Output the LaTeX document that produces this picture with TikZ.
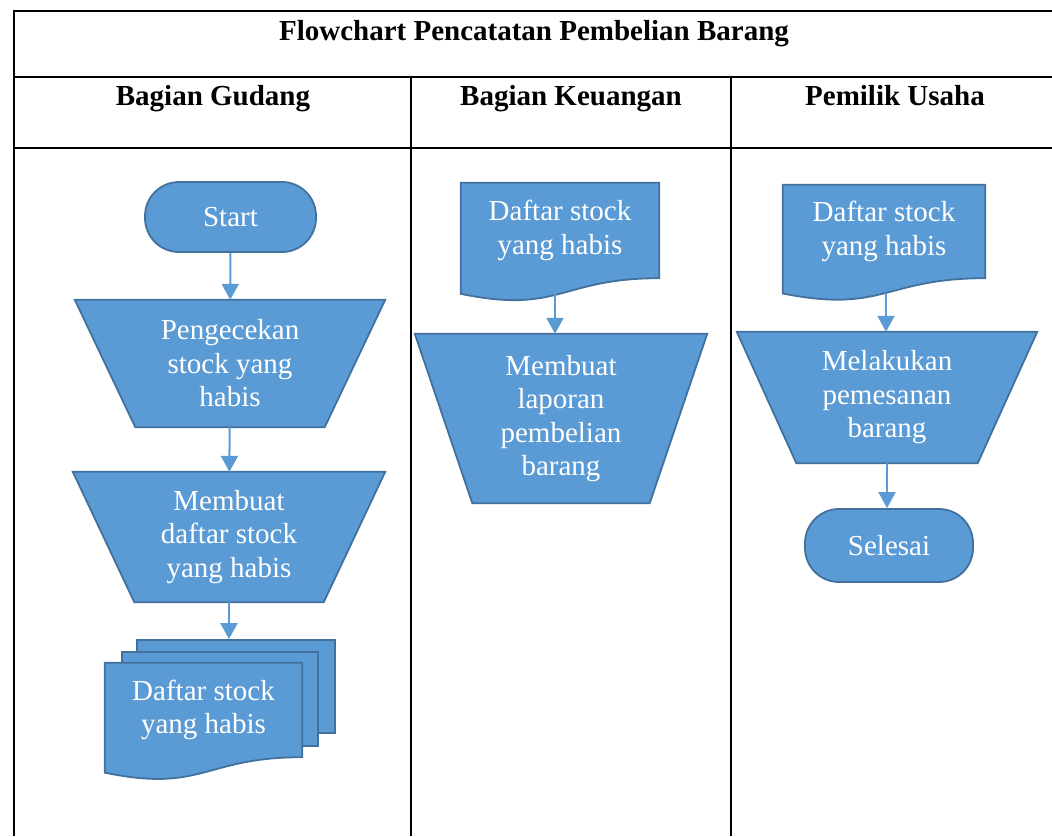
\documentclass[tikz,border=0pt]{standalone}
\usepackage{fontspec}
\setmainfont{Liberation Serif}
\usepackage{tikz}
\usetikzlibrary{
  arrows.meta,
  positioning,
  calc,
  backgrounds,
}
\definecolor{boxfill}{HTML}{5B9BD5}
\definecolor{boxline}{HTML}{41719C}
\definecolor{flowink}{HTML}{5B9BD5}
\tikzset{
  >={Triangle[width=17pt,length=16pt]},
  heading/.style={font=\fontsize{29}{33}\selectfont\bfseries, text=black, anchor=base},
  boxtext/.style={font=\fontsize{29}{33.5}\selectfont, text=white, align=center, inner sep=0pt},
  terminal/.style={boxtext, draw=boxline, fill=boxfill, line width=1.8pt, rounded corners=34pt},
  sheet/.style={draw=boxline, fill=boxfill, line width=1.8pt},
  flow/.style={draw=flowink, line width=2pt, ->},
  grid/.style={line width=2.5pt, black},
}

\begin{document}
\begin{tikzpicture}[x=1pt,y=-1pt]
  \useasboundingbox (0,0) rectangle (1052,836);

  % table
  \draw[grid] (1052,11) -- (14,11) -- (14,836);
  \draw[grid] (14,77) -- (1052,77);
  \draw[grid] (14,148) -- (1052,148);
  \draw[grid] (411,77) -- (411,836);
  \draw[grid] (731,77) -- (731,836);

  \node[heading] (title) at (534,40) {Flowchart Pencatatan Pembelian Barang};
  \node[heading] (hgudang) at (213,105) {Bagian Gudang};
  \node[heading] (hkeuangan) at (571,105) {Bagian Keuangan};
  \node[heading] (hpemilik) at (895,105) {Pemilik Usaha};

  % bagian gudang
  \node[terminal, minimum width=171pt, minimum height=70pt] (start) at (230.5,217) {\raisebox{-3pt}{Start}};
  \node[boxtext, minimum width=310pt, minimum height=127pt] (cek) at (230,363.5) {Pengecekan\\stock yang\\habis};
  \node[boxtext, minimum width=312pt, minimum height=130pt] (buat) at (229,537) {Membuat\\daftar stock\\yang habis};
  \node[boxtext, minimum width=197pt, minimum height=94pt] (dstock) at (203.5,710) {Daftar stock\\yang habis};

  % bagian keuangan
  \node[boxtext, minimum width=198pt, minimum height=95pt] (kdoc) at (560,230.5) {Daftar stock\\yang habis};
  \node[boxtext, minimum width=292pt, minimum height=169pt] (kproc) at (561,418.5) {Membuat\\laporan\\pembelian\\barang};

  % pemilik usaha
  \node[boxtext, minimum width=202pt, minimum height=93pt] (pdoc) at (884,231.5) {Daftar stock\\yang habis};
  \node[boxtext, minimum width=300pt, minimum height=131pt] (pproc) at (887,397.5) {Melakukan\\pemesanan\\barang};
  \node[terminal, minimum width=168pt, minimum height=73pt] (selesai) at (889,545.5) {Selesai};

  \begin{scope}[on background layer]
    \foreach \n/\d in {cek/60.5, buat/61.5, kproc/57.5, pproc/59.5} {
      \path[sheet] (\n.north west) -- (\n.north east)
        -- ($(\n.south east)+(-\d,0)$) -- ($(\n.south west)+(\d,0)$) -- cycle;
    }
    \node[sheet, minimum width=198pt, minimum height=93pt] (dback) at (236,686.5) {};
    \node[sheet, minimum width=196pt, minimum height=94pt] (dmid) at (220,699) {};
    \foreach \n/\b in {kdoc/95, pdoc/93, dstock/94} {
      \path[sheet] (\n.north west) -- (\n.north east) -- (\n.south east)
        .. controls (\n.south) and ($(\n.south)+(0,{0.381*\b})$)
        .. ($(\n.south west)+(0,{0.1646*\b})$) -- cycle;
    }
  \end{scope}

  \coordinate (kwave) at ($(kdoc.south)+(-5,16)$);
  \coordinate (pwave) at ($(pdoc.south)+(2,15)$);

  \draw[flow] (start) -- (cek);
  \draw[flow] (cek) -- (buat);
  \draw[flow] (buat.south) -- (buat.south |- dback.north);
  \draw[flow] (kwave) -- (kwave |- kproc.north);
  \draw[flow] (pwave) -- (pwave |- pproc.north);
  \draw[flow] (pproc.south |- pproc.south) -- (pproc.south |- selesai.north);
\end{tikzpicture}
\end{document}
